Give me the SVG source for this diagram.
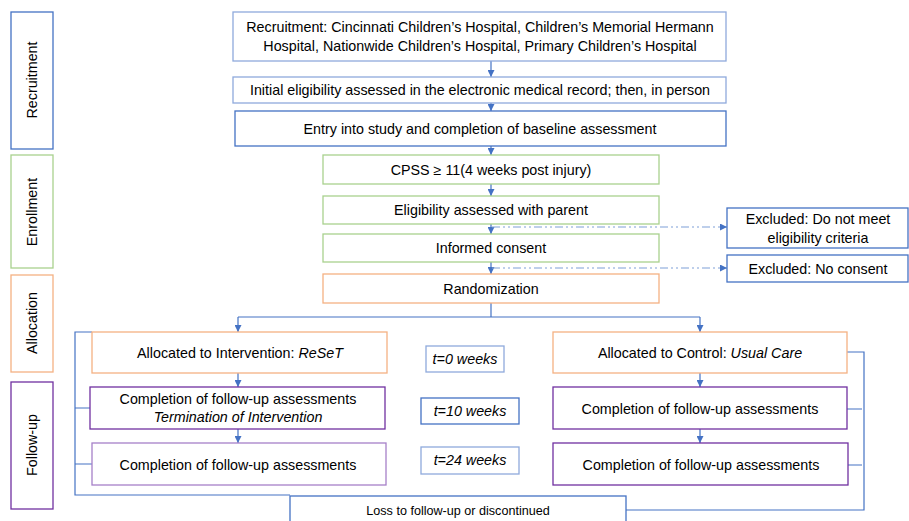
<svg xmlns="http://www.w3.org/2000/svg" width="909" height="521" viewBox="0 0 909 521">
<style>
text{font-family:"Liberation Sans",Arial,sans-serif;font-size:14.3px;fill:#000;text-anchor:middle}
.b{fill:#fff;stroke-width:1.3}
.blue{stroke:#4472C4}
.lblue{stroke:#8FAADC}
.green{stroke:#A9D18E}
.orange{stroke:#F4B183}
.purple{stroke:#7030A0}
.lpurple{stroke:#A680C8}
.c{fill:none;stroke:#4472C4;stroke-width:1.2}
.d{fill:none;stroke:#7F9FD8;stroke-width:1.2;stroke-dasharray:8 3 2 3 2 3}
.i{font-style:italic}
.s{font-size:12.6px}
</style>
<defs>
<marker id="a" viewBox="0 0 10 10" refX="10" refY="5" markerWidth="7" markerHeight="7" markerUnits="userSpaceOnUse" orient="auto">
<path d="M0,0L10,5L0,10z" fill="#4472C4"/>
</marker>
</defs>
<g id="stage-recruitment"><rect class="b blue" x="11" y="12" width="42" height="137"/><text transform="translate(37,80) rotate(-90)">Recruitment</text></g>
<g id="stage-enrollment"><rect class="b green" x="11" y="155" width="42" height="113"/><text transform="translate(37,212) rotate(-90)">Enrollment</text></g>
<g id="stage-allocation"><rect class="b orange" x="11" y="275" width="42" height="97"/><text transform="translate(37,323) rotate(-90)">Allocation</text></g>
<g id="stage-followup"><rect class="b purple" x="11" y="382" width="42" height="127"/><text transform="translate(37,445) rotate(-90)">Follow-up</text></g>

<g id="connectors">
<path class="c" d="M491,61V77" marker-end="url(#a)"/>
<path class="c" d="M491,103V111" marker-end="url(#a)"/>
<path class="c" d="M491,146V155" marker-end="url(#a)"/>
<path class="c" d="M491,184V196" marker-end="url(#a)"/>
<path class="c" d="M491,224V234" marker-end="url(#a)"/>
<path class="c" d="M491,262V274" marker-end="url(#a)"/>
<path class="d" d="M492,227H727" marker-end="url(#a)"/>
<path class="d" d="M492,268H727" marker-end="url(#a)"/>
<path class="c" d="M491,303V317"/>
<path class="c" d="M238,317H700"/>
<path class="c" d="M238,317V332" marker-end="url(#a)"/>
<path class="c" d="M700,317V332" marker-end="url(#a)"/>
<path class="c" d="M238,373V387" marker-end="url(#a)"/>
<path class="c" d="M238,429V443" marker-end="url(#a)"/>
<path class="c" d="M700,373V387" marker-end="url(#a)"/>
<path class="c" d="M700,429V443" marker-end="url(#a)"/>
<path class="c" d="M92,332H75V495H290M75,408H90M75,464H92"/>
<path class="c" d="M847,352H864V510H626M847,409H862M847,465H862"/>
</g>

<g id="n1"><rect class="b lblue" x="233" y="12" width="493" height="49"/><text x="480" y="32">Recruitment: Cincinnati Children’s Hospital, Children’s Memorial Hermann</text><text x="480" y="51">Hospital, Nationwide Children’s Hospital, Primary Children’s Hospital</text></g>
<g id="n2"><rect class="b lblue" x="233" y="77" width="493" height="26"/><text x="480" y="95">Initial eligibility assessed in the electronic medical record; then, in person</text></g>
<g id="n3"><rect class="b blue" x="235" y="111" width="491" height="35"/><text x="480" y="134">Entry into study and completion of baseline assessment</text></g>
<g id="n4"><rect class="b green" x="323" y="155" width="336" height="29"/><text x="491" y="175">CPSS ≥ 11(4 weeks post injury)</text></g>
<g id="n5"><rect class="b green" x="323" y="196" width="336" height="28"/><text x="491" y="215">Eligibility assessed with parent</text></g>
<g id="n6"><rect class="b green" x="323" y="234" width="336" height="28"/><text x="491" y="253">Informed consent</text></g>
<g id="n7"><rect class="b orange" x="323" y="274" width="336" height="29"/><text x="491" y="294">Randomization</text></g>
<g id="ex1"><rect class="b blue" x="727" y="208" width="181" height="40"/><text x="818" y="224">Excluded: Do not meet</text><text x="818" y="243">eligibility criteria</text></g>
<g id="ex2"><rect class="b blue" x="727" y="255" width="181" height="27"/><text x="818" y="274">Excluded: No consent</text></g>

<g id="int"><rect class="b orange" x="92" y="332" width="295" height="41"/><text x="240" y="358">Allocated to Intervention: <tspan class="i">ReSeT</tspan></text></g>
<g id="int-f1"><rect class="b purple" x="90" y="387" width="295" height="42"/><text x="238" y="404">Completion of follow-up assessments</text><text class="i" x="238" y="422">Termination of Intervention</text></g>
<g id="int-f2"><rect class="b lpurple" x="92" y="443" width="294" height="42"/><text x="238" y="470">Completion of follow-up assessments</text></g>
<g id="ctl"><rect class="b orange" x="553" y="332" width="294" height="41"/><text x="700" y="358">Allocated to Control: <tspan class="i">Usual Care</tspan></text></g>
<g id="ctl-f1"><rect class="b purple" x="553" y="387" width="294" height="42"/><text x="700" y="414">Completion of follow-up assessments</text></g>
<g id="ctl-f2"><rect class="b purple" x="553" y="443" width="295" height="42"/><text x="701" y="470">Completion of follow-up assessments</text></g>

<g id="t0"><rect class="b lblue" x="426" y="346" width="78" height="26"/><text class="i" x="465" y="364">t=0 weeks</text></g>
<g id="t10"><rect class="b blue" x="421" y="398" width="98" height="26"/><text class="i" x="470" y="416">t=10 weeks</text></g>
<g id="t24"><rect class="b lblue" x="421" y="447" width="98" height="27"/><text class="i" x="470" y="465">t=24 weeks</text></g>

<g id="loss"><rect class="b blue" x="290" y="496" width="336" height="30"/><text class="s" x="458" y="515">Loss to follow-up or discontinued</text></g>
</svg>
